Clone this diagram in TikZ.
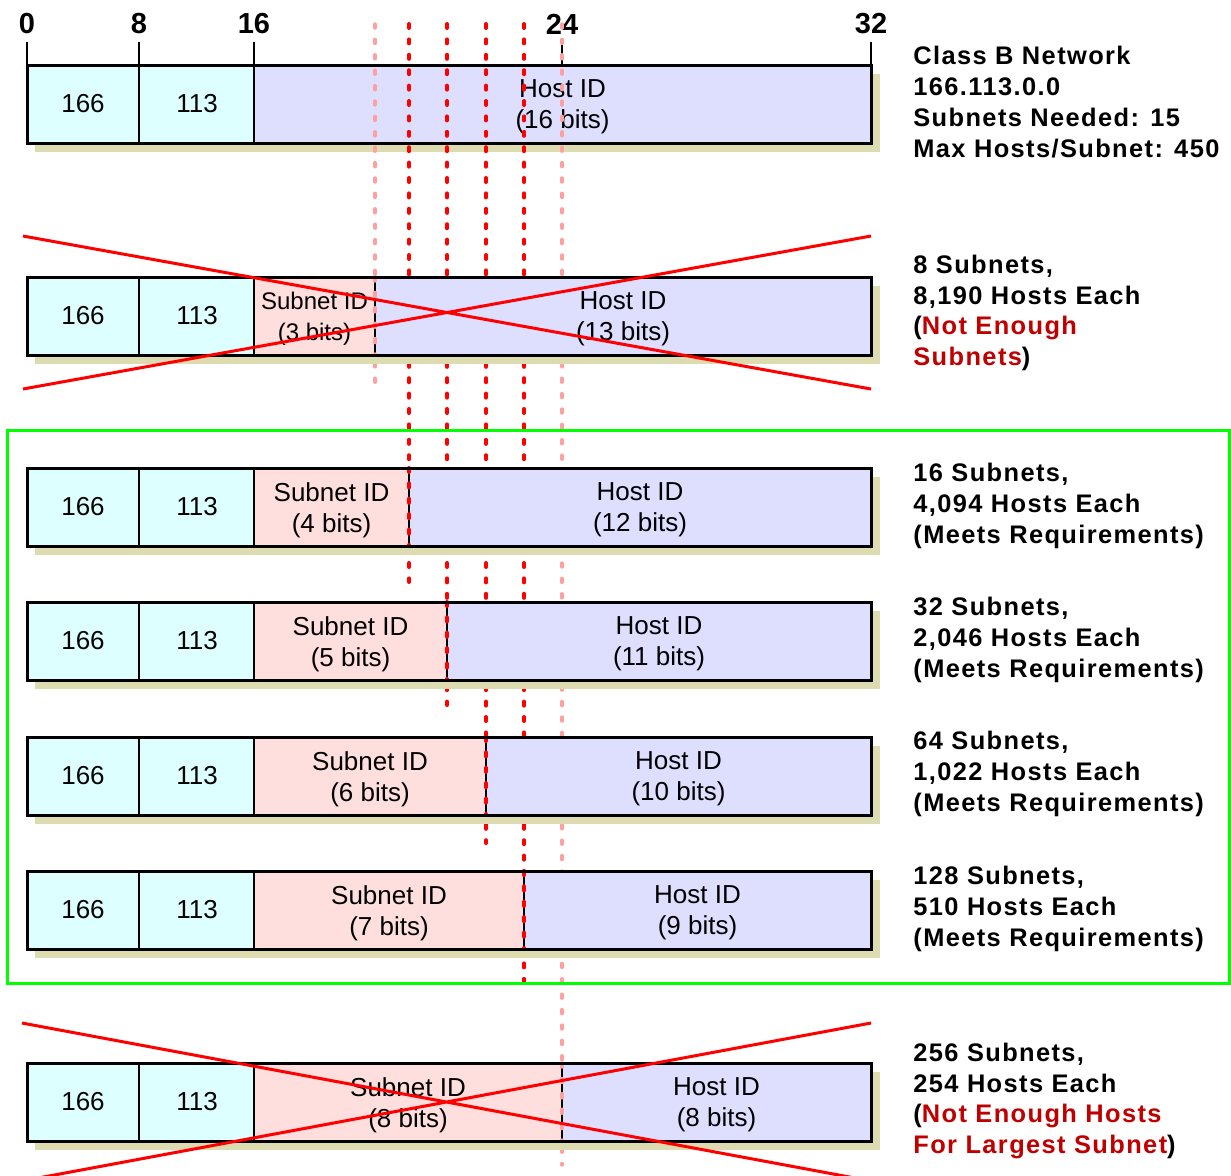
\documentclass[tikz,border=0pt]{standalone}
\usepackage{fontspec}
\setmainfont{Liberation Sans}
\newfontfamily\notefont[LetterSpace=5.5]{Liberation Sans}
\usepackage{xcolor}
\definecolor{netcyan}{RGB}{221,255,255}
\definecolor{subpink}{RGB}{255,222,222}
\definecolor{hostblue}{RGB}{222,222,255}
\definecolor{shadowtan}{RGB}{221,219,176}
\definecolor{dashpink}{RGB}{255,160,160}
\definecolor{notered}{RGB}{192,0,0}
\tikzset{
  rowframe/.style={draw=black,line width=1.5pt},
  divider/.style={draw=black,line width=0.6pt},
  bitcut/.style={red,line width=2pt,line cap=round,dash pattern=on 2pt off 5.7pt},
  bitcutlight/.style={dashpink,line width=1.7pt,line cap=round,dash pattern=on 2pt off 5.7pt},
  crossout/.style={red,line width=1.5pt},
  okframe/.style={draw=green,line width=1.5pt},
  fieldtext/.style={inner sep=0pt,font=\fontsize{13}{15.5}\selectfont},
  narrowtext/.style={font=\fontsize{12}{15.5}\selectfont},
  notetext/.style={anchor=west,inner sep=0pt,align=left,font=\notefont\bfseries\fontsize{12.7}{15.4}\selectfont},
  bitnum/.style={inner sep=0pt,font=\bfseries\fontsize{14.5}{16}\selectfont}
}
\newcommand{\netrow}[7]{%
  \fill[shadowtan] (35,#2+9) rectangle (880,#2+87);
  \fill[netcyan] (27,#2) rectangle (254,#2+78);
  \fill[subpink] (254,#2) rectangle (#3,#2+78);
  \fill[hostblue] (#3,#2) rectangle (871,#2+78);
  \draw[divider] (139,#2) -- (139,#2+78) (254,#2) -- (254,#2+78) (#3,#2) -- (#3,#2+78);
  \draw[#6] (#3,#2) -- (#3,#2+78);
  \draw[rowframe] (27,#2) rectangle (871,#2+78);
  \node[fieldtext] (#1a) at (83,#2+39) {166};
  \node[fieldtext] (#1b) at (197,#2+39) {113};
  \node[fieldtext,align=center,#7] (#1s) at ({(254+#3)/2},#2+42) {Subnet ID\\(#4 bits)};
  \node[fieldtext,align=center] (#1h) at ({(#3+871)/2},#2+42) {Host ID\\(#5 bits)};
}
\begin{document}
\begin{tikzpicture}[x=0.5pt,y=-0.5pt]
\useasboundingbox (0,0) rectangle (1231,1175);
\fill[shadowtan] (35,74) rectangle (880,152);
\fill[netcyan] (27,65) rectangle (254,143);
\fill[hostblue] (254,65) rectangle (871,143);
\draw[divider] (139,65) -- (139,143) (254,65) -- (254,143);
\draw[rowframe] (27,65) rectangle (871,143);
\node[fieldtext] (r0a) at (83,104) {166};
\node[fieldtext] (r0b) at (197,104) {113};
\node[fieldtext,align=center] (r0h) at (562.5,107) {Host ID\\(16 bits)};
\foreach \x/\b in {27/0,139/8,254/16,562/24,871/32}
  {\draw[line width=1.2pt] (\x,42) -- (\x,65);
   \node[bitnum] (bit\b) at (\x,24) {\b};}
\draw[bitcutlight] (375,24) -- (375,383);
\draw[bitcut] (409,24) -- (409,582);
\draw[bitcut] (447,24) -- (447,705);
\draw[bitcut] (486,24) -- (486,843);
\draw[bitcut] (524,24) -- (524,982);
\draw[bitcutlight] (562,24) -- (562,1165);
\netrow{r1}{277}{375}{3}{13}{bitcutlight}{narrowtext}
\netrow{r2}{468}{409}{4}{12}{bitcut}{}
\netrow{r3}{602}{447}{5}{11}{bitcut}{}
\netrow{r4}{737}{486}{6}{10}{bitcut}{}
\netrow{r5}{871}{524}{7}{9}{bitcut}{}
\netrow{r6}{1063}{562}{8}{8}{bitcutlight}{}
\draw[crossout] (23,236) -- (871,389) (23,389) -- (871,236);
\begin{scope}
\clip (0,0) rectangle (1231,1175);
\draw[crossout] (22,1023) -- (871,1181) (22,1181) -- (871,1023);
\end{scope}
\draw[okframe] (7,430) rectangle (1229,983);
\node[notetext] (n0) at (913,102) {Class B Network\\166.113.0.0\\Subnets Needed: 15\\Max Hosts/Subnet: 450};
\node[notetext] (n1) at (913,313) {8 Subnets,\\8,190 Hosts Each\\(\textcolor{notered}{Not Enough}\\\textcolor{notered}{Subnets})};
\node[notetext] (n2) at (913,506) {16 Subnets,\\4,094 Hosts Each\\(Meets Requirements)};
\node[notetext] (n3) at (913,640) {32 Subnets,\\2,046 Hosts Each\\(Meets Requirements)};
\node[notetext] (n4) at (913,774) {64 Subnets,\\1,022 Hosts Each\\(Meets Requirements)};
\node[notetext] (n5) at (913,909) {128 Subnets,\\510 Hosts Each\\(Meets Requirements)};
\node[notetext] (n6) at (913,1101) {256 Subnets,\\254 Hosts Each\\(\textcolor{notered}{Not Enough Hosts}\\\textcolor{notered}{For Largest Subnet})};
\end{tikzpicture}
\end{document}
